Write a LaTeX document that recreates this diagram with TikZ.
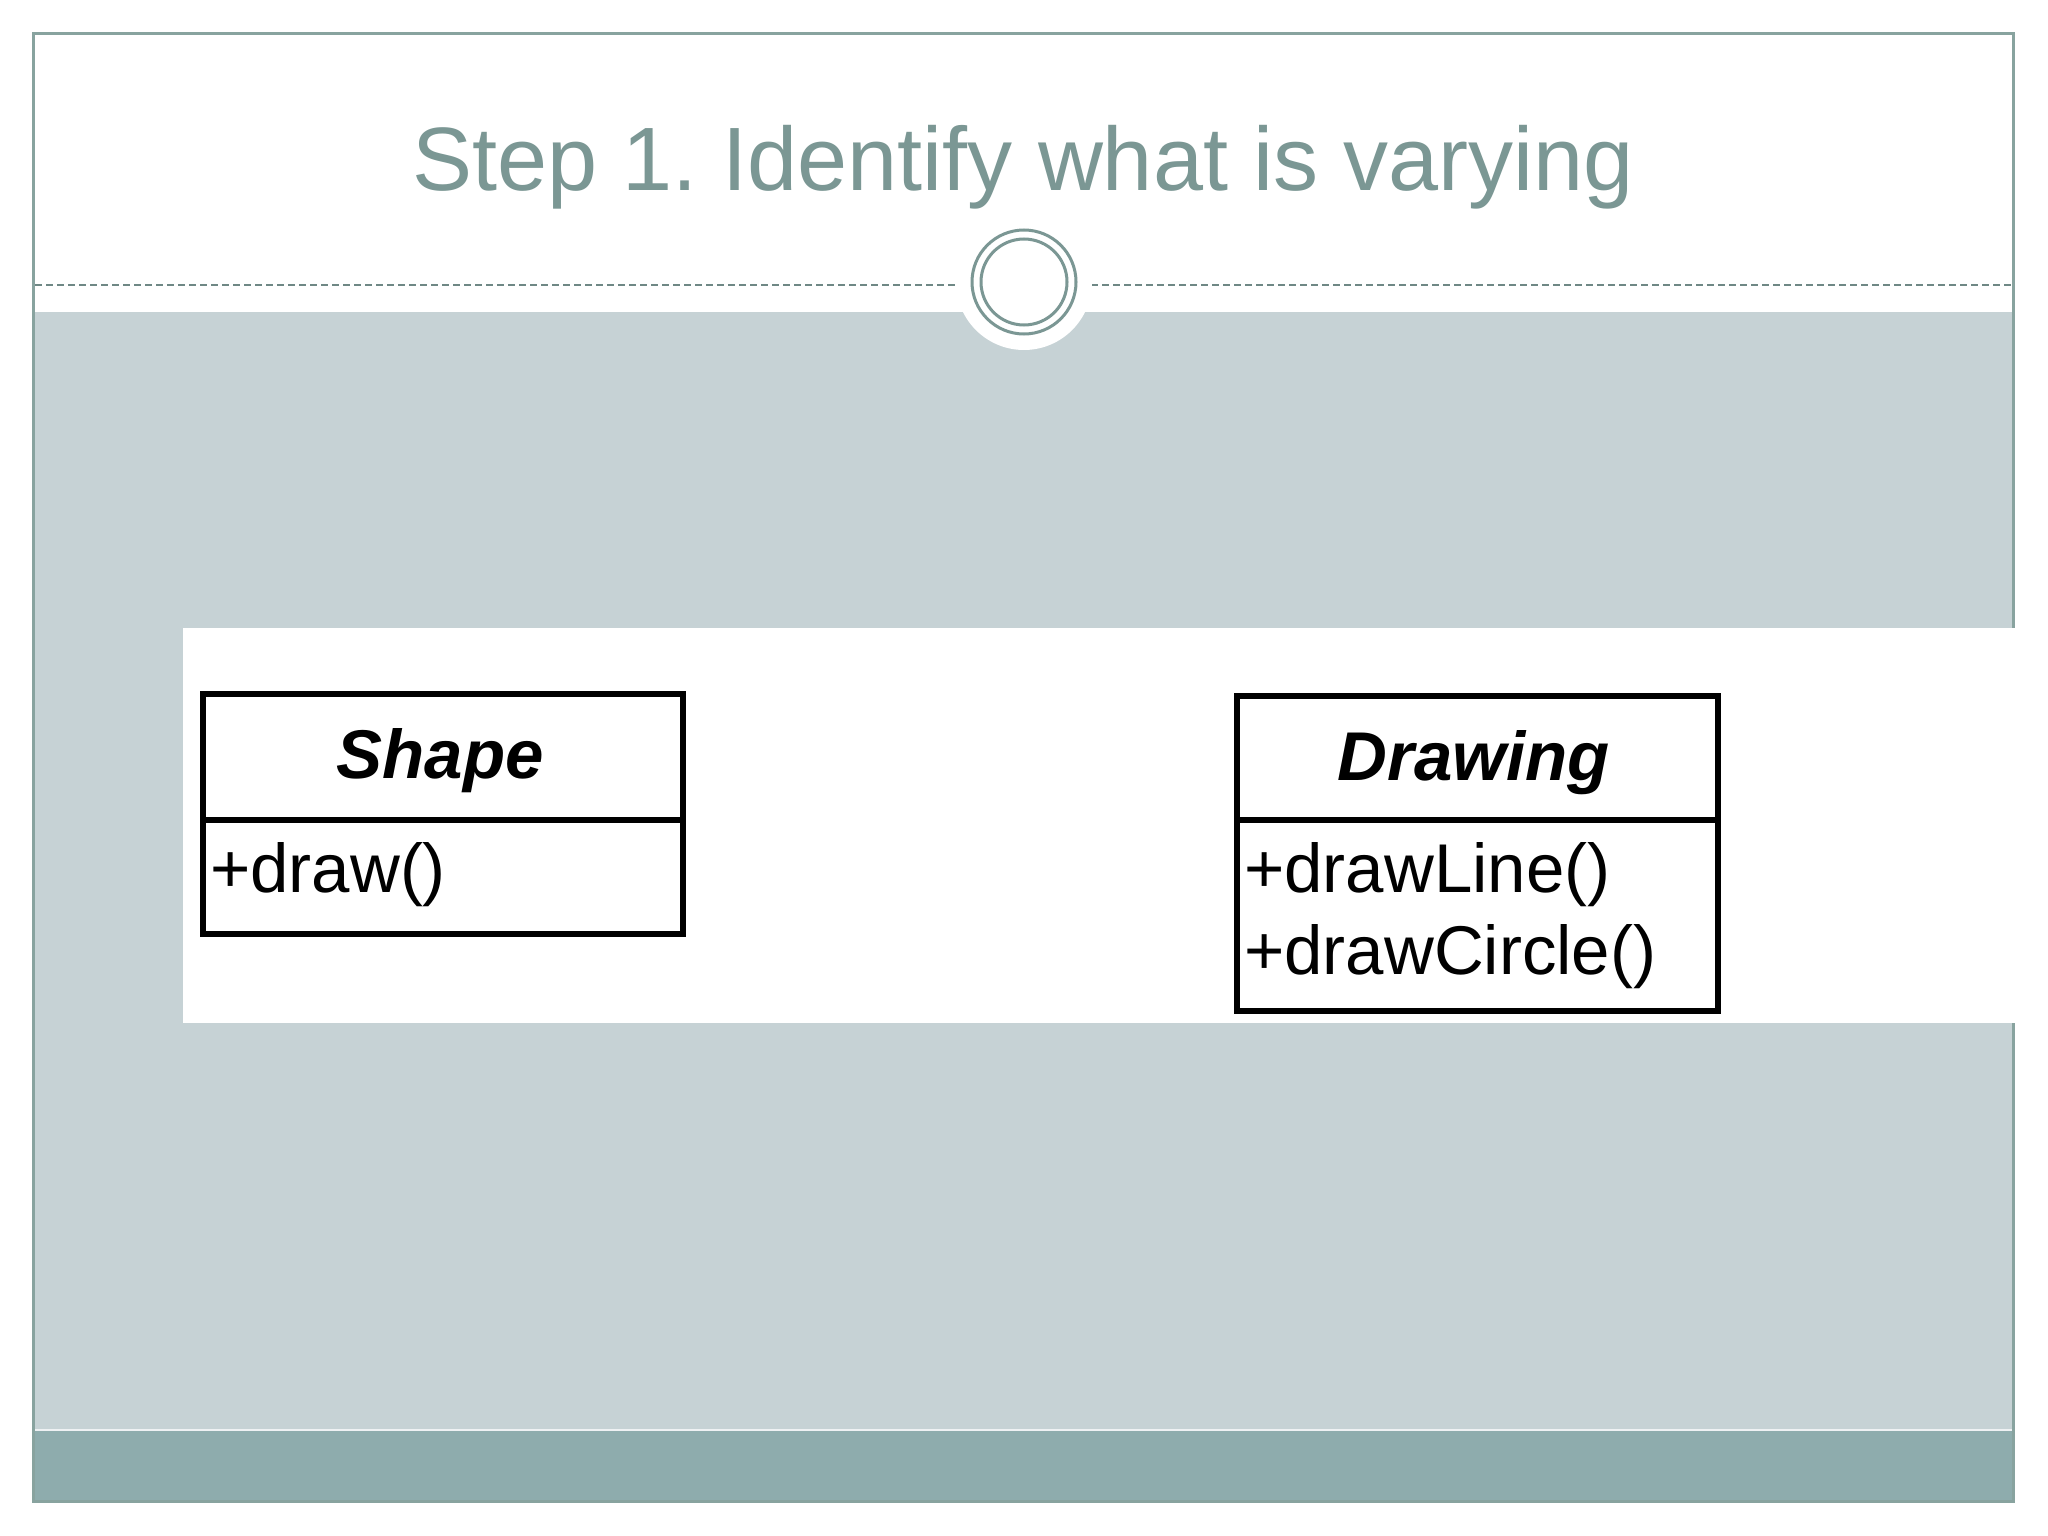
\documentclass[tikz,border=0pt]{standalone}
\usepackage{fontspec}
\setmainfont{Liberation Sans}
\frenchspacing
\definecolor{teal1}{HTML}{7B9794}
\definecolor{frameC}{HTML}{88A39F}
\definecolor{grayfill}{HTML}{C6D2D5}
\definecolor{barC}{HTML}{8EACAD}
\begin{document}
\begin{tikzpicture}[x=1pt,y=-1pt,
  umlbox/.style={draw=black,line width=5.5pt,inner sep=0pt},
  umltitle/.style={font=\fontsize{69}{80}\selectfont\bfseries\itshape,anchor=base,inner sep=0pt},
  umlop/.style={font=\fontsize{69}{80}\selectfont,anchor=base west,inner sep=0pt}]
\useasboundingbox (0,0) rectangle (2048,1536);
\fill[white] (0,0) rectangle (2048,1536);
% slide areas
\fill[grayfill] (33,312) rectangle (2013,1430);
\fill[barC] (33,1430) rectangle (2013,1501);
\draw[white!70!grayfill,line width=1.5pt] (33,1430) -- (2013,1430);
\draw[frameC,line width=3pt] (33,34) rectangle (2013,1501);
% dashed rule
\draw[teal1!90!black,line width=2pt,dash pattern=on 7pt off 4pt] (35,285) -- (2011,285);
% title
\node[text=teal1,font=\fontsize{90}{100}\selectfont,anchor=base,inner sep=0pt] (title) at (1023,190) {Step 1. Identify what is varying};
% circle ornament
\fill[white] (1024,282) circle[radius=68];
\draw[teal1,line width=3pt] (1024,282) circle[radius=52];
\draw[teal1,line width=3pt] (1024,282) circle[radius=43];
% white panel
\fill[white] (183,628) rectangle (2030,1023);
% Shape class
\node[umlbox,minimum width=480pt,minimum height=240pt,anchor=north west] (shape) at (200,691) {};
\draw[line width=5.5pt] (shape.west |- 0,820) -- (shape.east |- 0,820);
\node[umltitle] (shapeT) at (440,778) {Shape};
\node[umlop] (shapeOp) at (210,892) {+draw()};
% Drawing class
\node[umlbox,minimum width=481pt,minimum height=315pt,anchor=north west] (drawing) at (1234,693) {};
\draw[line width=5.5pt] (drawing.west |- 0,820) -- (drawing.east |- 0,820);
\node[umltitle] (drawingT) at (1474,780) {Drawing};
\node[umlop] (op1) at (1244,892) {+drawLine()};
\node[umlop] (op2) at (1244,974) {+drawCircle()};
\end{tikzpicture}
\end{document}
